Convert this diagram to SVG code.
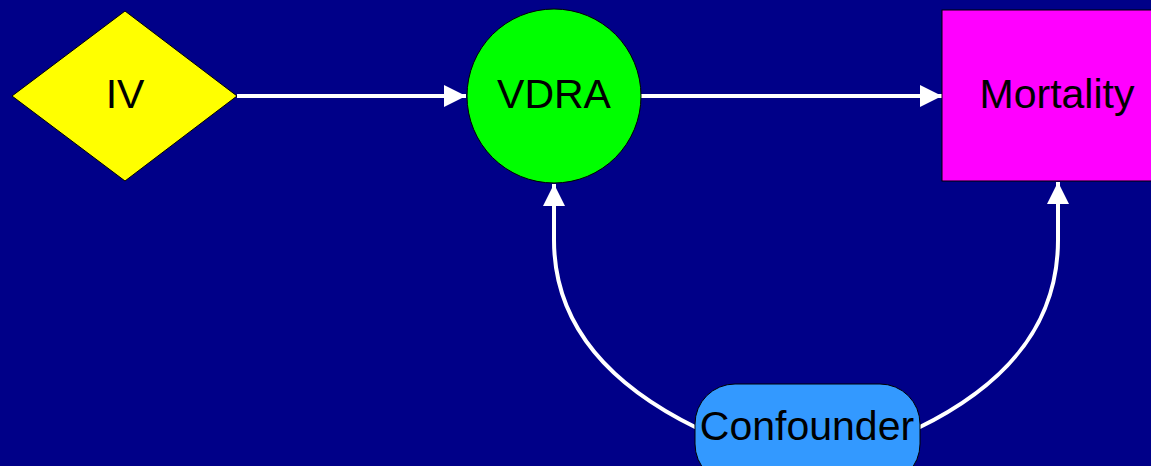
<svg xmlns="http://www.w3.org/2000/svg" width="1151" height="466" viewBox="0 0 1151 466">
<style>
.lbl{font-family:"Liberation Sans",Arial,sans-serif;font-size:41px;fill:#000;text-anchor:middle}
.edge{fill:none;stroke:#fff;stroke-width:4}
.node{stroke:#000;stroke-width:1}
</style>
<defs>
<marker id="ah" markerUnits="userSpaceOnUse" markerWidth="24" markerHeight="24" viewBox="0 0 24 24" refX="22" refY="12" orient="auto">
<polygon points="0,1 22,12 0,23" fill="#fff"/>
</marker>
</defs>
<rect width="1151" height="466" fill="#000088"/>
<g id="connectors">
<path class="edge" d="M237,96 H466" marker-end="url(#ah)"/>
<path class="edge" d="M641,96 H942" marker-end="url(#ah)"/>
<path class="edge" d="M697,428 C615,388 554,330 554,240 L554,184" marker-end="url(#ah)"/>
<path class="edge" d="M918,428 C1000,388 1058,330 1058,240 L1058,182" marker-end="url(#ah)"/>
</g>
<g id="iv">
<polygon class="node" points="12,96 125,11 237,96 125,181" fill="#ffff00"/>
<text class="lbl" x="125" y="108">IV</text>
</g>
<g id="vdra">
<circle class="node" cx="554" cy="96" r="87" fill="#00ff00"/>
<text class="lbl" x="554" y="108">VDRA</text>
</g>
<g id="mortality">
<rect class="node" x="942" y="10" width="230" height="171" fill="#ff00ff"/>
<text class="lbl" x="1057" y="108">Mortality</text>
</g>
<g id="confounder">
<rect class="node" x="695" y="384" width="225" height="100" rx="40" fill="#3399ff"/>
<text class="lbl" x="807" y="440">Confounder</text>
</g>
</svg>
